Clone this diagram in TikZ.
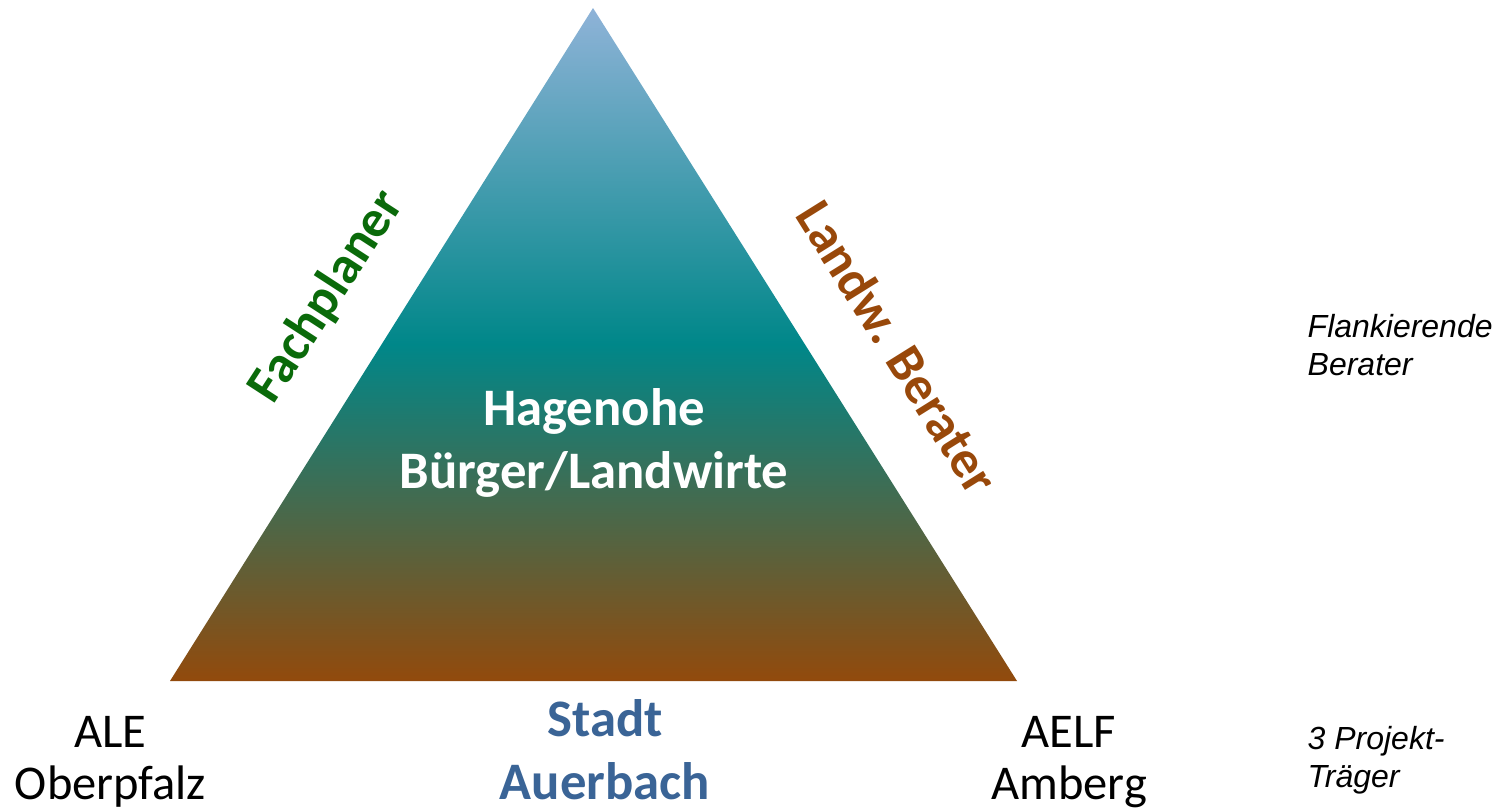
\documentclass[tikz,border=0pt]{standalone}
\usepackage{fontspec}
\setmainfont{Carlito}
\newfontfamily\notefont{Liberation Sans}
\usepackage{tikz}
\usetikzlibrary{positioning}

\definecolor{apexblue}{HTML}{8FB3D8}
\definecolor{midteal}{HTML}{008789}
\definecolor{basebrown}{HTML}{924A0C}
\definecolor{sidegreen}{HTML}{0A6A0A}
\definecolor{sidebrown}{HTML}{98480A}
\definecolor{cityblue}{HTML}{3A6496}

\begin{document}
\begin{tikzpicture}[
  big/.style={font=\fontsize{15}{17.9}\selectfont\bfseries, align=center, inner sep=0pt},
  side/.style={big},
  partner/.style={font=\fontsize{13.8}{14.8}\selectfont, align=center, inner sep=0pt},
  note/.style={font=\notefont\itshape\fontsize{9.1}{10.8}\selectfont, align=left, inner sep=0pt, anchor=west}
]
\useasboundingbox (0,0) rectangle (15.02,8.07);

% shaded triangle
\coordinate (apex) at (5.93,7.99);
\coordinate (bl) at (1.70,1.26);
\coordinate (br) at (10.17,1.26);
\shade[top color=apexblue, bottom color=basebrown, middle color=midteal] (apex) -- (br) -- (bl) -- cycle;

\node[big, text=white] (core) at (5.94,3.64) {Hagenohe\\Bürger/Landwirte};
\node[side, text=sidegreen, rotate=57] (plan) at (3.27,5.10) {Fachplaner};
\node[side, text=sidebrown, rotate=-58] (farm) at (8.98,4.60) {Landw. Berater};

% project partners below the base
\node[big, text=cityblue] (city) at (6.05,0.57) {Stadt\\Auerbach};
\node[partner] (ale) at (1.105,0.45) {ALE\\Oberpfalz};
\node[partner] (aelf) at (10.69,0.45) {AELF\\Amberg};

\node[note] (flank) at (13.07,4.62) {Flankierende\\Berater};
\node[note] (carrier) at (13.07,0.465) {3 Projekt-\\Träger};
\end{tikzpicture}
\end{document}
